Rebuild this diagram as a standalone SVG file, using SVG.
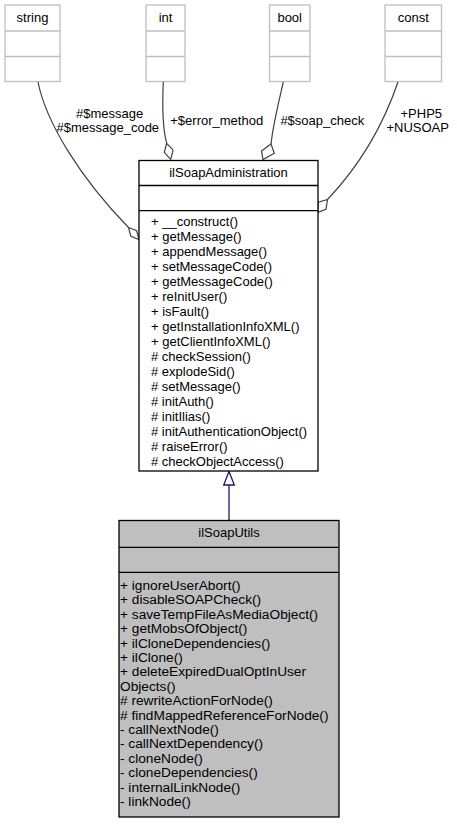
<svg xmlns="http://www.w3.org/2000/svg" width="457" height="824" viewBox="0 0 457 824">
<style>
text{font-family:"Liberation Sans",Arial,sans-serif;font-size:13px;fill:#000}
.c{text-anchor:middle}
.m{font-size:13.7px}
.ext rect,.ext line{fill:#fff;stroke:#bfbfbf;stroke-width:1.3}
.ext line{fill:none}
.adm rect{fill:#fff;stroke:#000;stroke-width:1.3}
.adm line{stroke:#000;stroke-width:1.3}
.utl rect{fill:#bfbfbf;stroke:#000;stroke-width:1.3}
.utl line{stroke:#000;stroke-width:1.3}
.e path{fill:none;stroke:#404040;stroke-width:1.2}
.e polygon{fill:#fff;stroke:#404040;stroke-width:1.2}
.inh path{fill:none;stroke:#191970;stroke-width:1.3}
.inh polygon{fill:#fff;stroke:#191970;stroke-width:1.3}
</style>
<rect width="457" height="824" fill="#fff"/>
<g id="node-string" class="ext">
<rect x="5" y="5" width="55" height="76.5"/>
<line x1="5" y1="31" x2="60" y2="31"/>
<line x1="5" y1="56.5" x2="60" y2="56.5"/>
<text class="c" x="32.5" y="22">string</text>
</g>
<g id="node-int" class="ext">
<rect x="146" y="5" width="39" height="76.5"/>
<line x1="146" y1="31" x2="185" y2="31"/>
<line x1="146" y1="56.5" x2="185" y2="56.5"/>
<text class="c" x="165.5" y="22">int</text>
</g>
<g id="node-bool" class="ext">
<rect x="269.5" y="5" width="40.5" height="76.5"/>
<line x1="269.5" y1="31" x2="310" y2="31"/>
<line x1="269.5" y1="56.5" x2="310" y2="56.5"/>
<text class="c" x="289.7" y="22">bool</text>
</g>
<g id="node-const" class="ext">
<rect x="385" y="5" width="56.5" height="76.5"/>
<line x1="385" y1="31" x2="441.5" y2="31"/>
<line x1="385" y1="56.5" x2="441.5" y2="56.5"/>
<text class="c" x="413.3" y="22">const</text>
</g>
<g id="connectors">
<g class="e">
<path d="M38,82 C46,122 80,178 128.5,227.5"/>
<polygon points="128.5,227.5 136.7,230.8 139,239.5 130.8,236.2"/>
<path d="M163.3,82 C162,110 163,130 166.7,143.3"/>
<polygon points="166.7,143.3 173.1,150.2 170.7,159.3 164.3,152.4"/>
<path d="M283.3,82 C278,105 273,125 271,144"/>
<polygon points="271,144 274.3,153.2 263,159.5 261.5,151"/>
<path d="M398,82 C385,120 365,160 327.5,199.5"/>
<polygon points="327.5,199.5 326,209.3 317.8,212.3 318.3,202.3"/>
</g>
<g class="inh">
<path d="M229,520 L229,485"/>
<polygon points="229,471.5 234.3,485 223.7,485"/>
</g>
<text class="c" x="109.7" y="117.5">#$message</text>
<text class="c" x="107.8" y="132">#$message_code</text>
<text class="c" x="216.7" y="124.5">+$error_method</text>
<text class="c" x="322.3" y="124.5">#$soap_check</text>
<text class="c" x="421.3" y="117.5">+PHP5</text>
<text class="c" x="417.7" y="132">+NUSOAP</text>
</g>
<g id="node-ilSoapAdministration" class="adm">
<rect x="139" y="160.5" width="179" height="310.5"/>
<line x1="139" y1="185.5" x2="318" y2="185.5"/>
<line x1="139" y1="210.7" x2="318" y2="210.7"/>
<text class="c" x="228.5" y="177">ilSoapAdministration</text>
<text x="151" y="226">+ __construct()</text>
<text x="151" y="241">+ getMessage()</text>
<text x="151" y="256">+ appendMessage()</text>
<text x="151" y="271">+ setMessageCode()</text>
<text x="151" y="286">+ getMessageCode()</text>
<text x="151" y="301">+ reInitUser()</text>
<text x="151" y="316">+ isFault()</text>
<text x="151" y="331">+ getInstallationInfoXML()</text>
<text x="151" y="346">+ getClientInfoXML()</text>
<text x="151" y="361"># checkSession()</text>
<text x="151" y="376"># explodeSid()</text>
<text x="151" y="391"># setMessage()</text>
<text x="151" y="406"># initAuth()</text>
<text x="151" y="421"># initIlias()</text>
<text x="151" y="436"># initAuthenticationObject()</text>
<text x="151" y="451"># raiseError()</text>
<text x="151" y="466"># checkObjectAccess()</text>
</g>
<g id="node-ilSoapUtils" class="utl">
<rect x="119" y="520.5" width="220" height="296.5"/>
<line x1="119" y1="547.3" x2="339" y2="547.3"/>
<line x1="119" y1="572.3" x2="339" y2="572.3"/>
<text class="c" x="229" y="537">ilSoapUtils</text>
<text class="m" x="120" y="590">+ ignoreUserAbort()</text>
<text class="m" x="120" y="604.4">+ disableSOAPCheck()</text>
<text class="m" x="120" y="618.8">+ saveTempFileAsMediaObject()</text>
<text class="m" x="120" y="633.2">+ getMobsOfObject()</text>
<text class="m" x="120" y="647.6">+ ilCloneDependencies()</text>
<text class="m" x="120" y="662">+ ilClone()</text>
<text class="m" x="120" y="676.4">+ deleteExpiredDualOptInUser</text>
<text class="m" x="120" y="690.8">Objects()</text>
<text class="m" x="120" y="705.2"># rewriteActionForNode()</text>
<text class="m" x="120" y="719.6"># findMappedReferenceForNode()</text>
<text class="m" x="120" y="734">- callNextNode()</text>
<text class="m" x="120" y="748.4">- callNextDependency()</text>
<text class="m" x="120" y="762.8">- cloneNode()</text>
<text class="m" x="120" y="777.2">- cloneDependencies()</text>
<text class="m" x="120" y="791.6">- internalLinkNode()</text>
<text class="m" x="120" y="806">- linkNode()</text>
</g>
</svg>
